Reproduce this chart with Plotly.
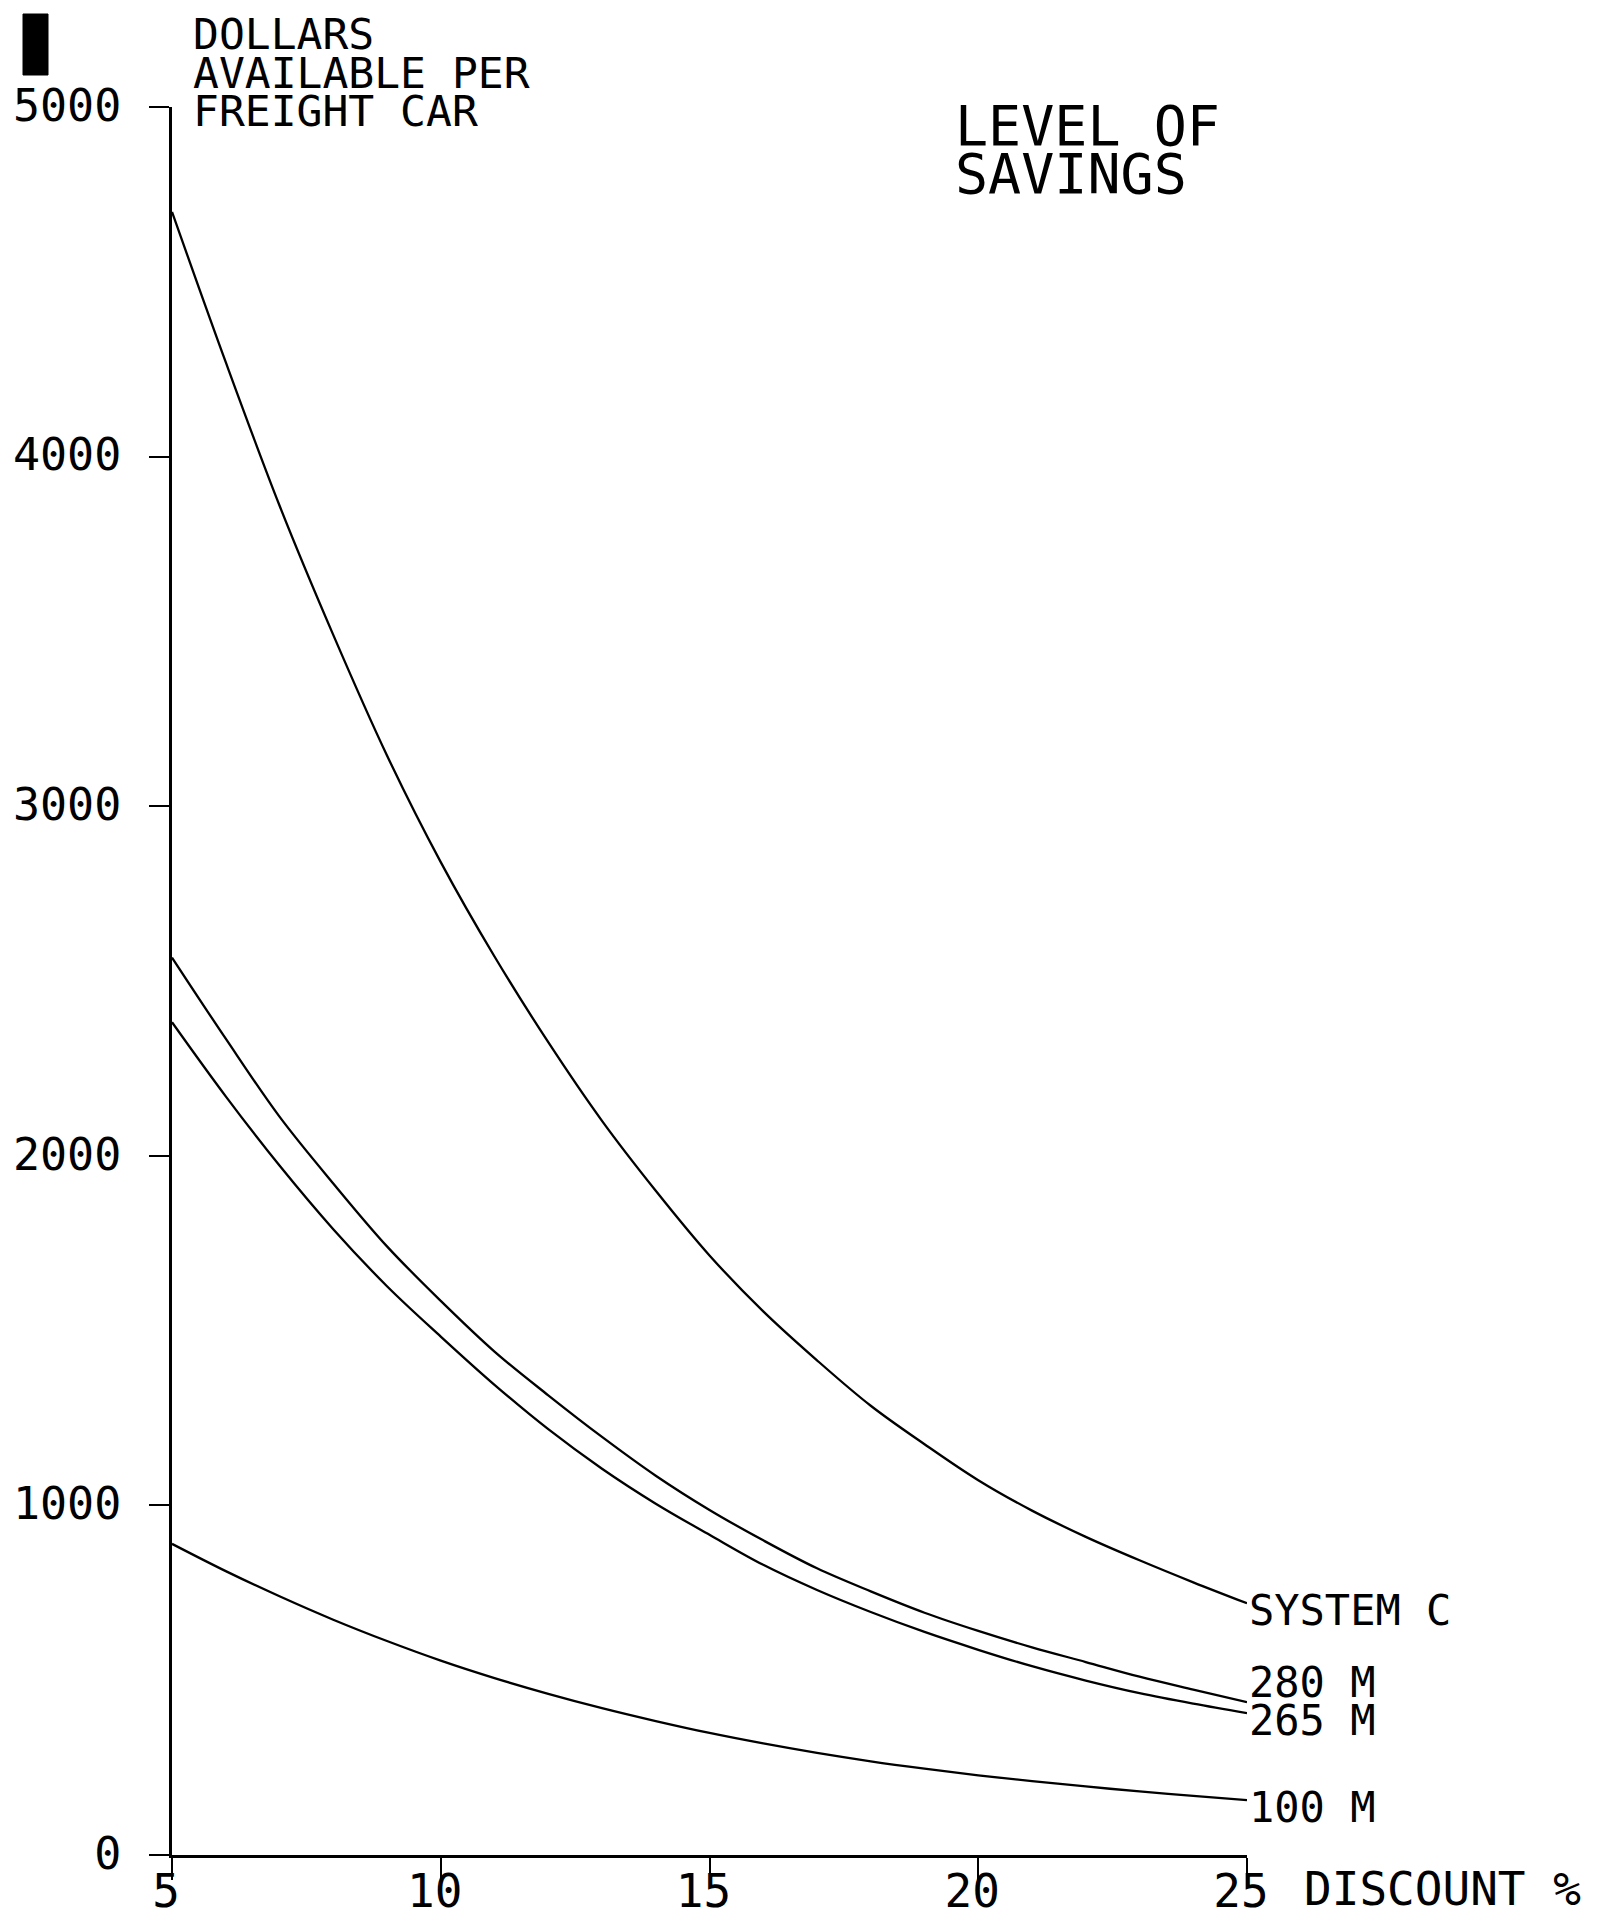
import plotly.graph_objects as go

# ---- data ----
discount = [5, 6, 7, 8, 9, 10, 11, 12, 13, 14, 15, 16, 17, 18, 19, 20, 21, 22, 23, 24, 25]

system_c = [4700, 4270, 3860, 3490, 3145, 2840, 2570, 2325, 2100, 1900, 1715,
            1555, 1415, 1285, 1175, 1072, 985, 910, 843, 780, 720]
m280 = [2567, 2335, 2112, 1921, 1741, 1585, 1440, 1315, 1196, 1085, 987,
        900, 820, 754, 693, 641, 594, 552, 510, 473, 437]
m265 = [2382, 2170, 1972, 1790, 1627, 1483, 1345, 1218, 1105, 1005, 916,
        830, 758, 695, 638, 587, 540, 499, 463, 433, 406]
m100 = [890, 812, 740, 673, 612, 556, 506, 461, 420, 383, 349,
        319, 292, 268, 247, 228, 211, 196, 182, 169, 157]

series_names = ["SYSTEM C", "280 M", "265 M", "100 M"]
series_values = [system_c, m280, m265, m100]

x_ticks = [5, 10, 15, 20, 25]
y_ticks = [0, 1000, 2000, 3000, 4000, 5000]

FONT = "DejaVu Sans Mono"
W, H = 1602, 1926
L, R, T, B = 172, 355, 107, 71
PW, PH = W - L - R, H - T - B


def px(x):
    return (x - L) / PW


def py(y):
    return (H - B - y) / PH


fig = go.Figure()
for name, vals in zip(series_names, series_values):
    fig.add_trace(go.Scatter(x=discount, y=vals, mode="lines", name=name,
                             line=dict(color="black", width=2.3, shape="spline", smoothing=1.0),
                             cliponaxis=False, showlegend=False, hoverinfo="skip"))

# end-of-line labels (anchored to the last data point of each series)
label_shift = {"SYSTEM C": -7, "280 M": 20, "265 M": -7, "100 M": -7}
for name, vals in zip(series_names, series_values):
    fig.add_annotation(x=discount[-1], y=vals[-1], xref="x", yref="y", text=name,
                       showarrow=False, xanchor="left", yanchor="middle", xshift=0,
                       yshift=label_shift[name],
                       font=dict(family=FONT, size=42, color="black"))

# y-axis title (three lines)
for txt, cy in [("DOLLARS", 34), ("AVAILABLE PER", 73), ("FREIGHT CAR", 111)]:
    fig.add_annotation(x=px(191), y=py(cy), xref="paper", yref="paper", text=txt,
                       showarrow=False, xanchor="left", yanchor="middle",
                       font=dict(family=FONT, size=43, color="black"))

# chart title
for txt, cy in [("LEVEL OF", 126), ("SAVINGS", 174)]:
    fig.add_annotation(x=px(953), y=py(cy), xref="paper", yref="paper", text=txt,
                       showarrow=False, xanchor="left", yanchor="middle",
                       font=dict(family=FONT, size=55, color="black"))

# x-axis title
fig.add_annotation(x=px(1302), y=py(1889), xref="paper", yref="paper", text="DISCOUNT %",
                   showarrow=False, xanchor="left", yanchor="middle",
                   font=dict(family=FONT, size=46, color="black"))

# scan mark at top-left
fig.add_shape(type="rect", xref="paper", yref="paper",
              x0=px(23), x1=px(48), y0=py(75), y1=py(14),
              fillcolor="black", line=dict(color="black", width=1))

fig.update_layout(
    width=W, height=H, autosize=False,
    margin=dict(l=L, r=R, t=T, b=B, pad=0, autoexpand=False),
    paper_bgcolor="white", plot_bgcolor="white",
    showlegend=False,
    xaxis=dict(range=[5, 25], tickvals=x_ticks, ticktext=[str(v) for v in x_ticks],
               showline=True, linecolor="black", linewidth=2.5, mirror=False,
               ticks="outside", ticklen=22, tickwidth=2, tickcolor="black",
               showgrid=False, zeroline=False, automargin=False,
               ticklabelstandoff=-28, ticklabelshift=-6,
               tickfont=dict(family=FONT, size=46, color="black")),
    yaxis=dict(range=[0, 5000], tickvals=y_ticks, ticktext=[str(v) for v in y_ticks],
               showline=True, linecolor="black", linewidth=2.5,
               ticks="outside", ticklen=20, tickwidth=2, tickcolor="black",
               showgrid=False, zeroline=False, automargin=False,
               ticklabelstandoff=19, ticklabelshift=-2,
               tickfont=dict(family=FONT, size=45, color="black")),
)

fig.write_html("out.html", config={"displayModeBar": False},
               post_script="document.body.style.margin='0';document.body.style.overflow='hidden';")
